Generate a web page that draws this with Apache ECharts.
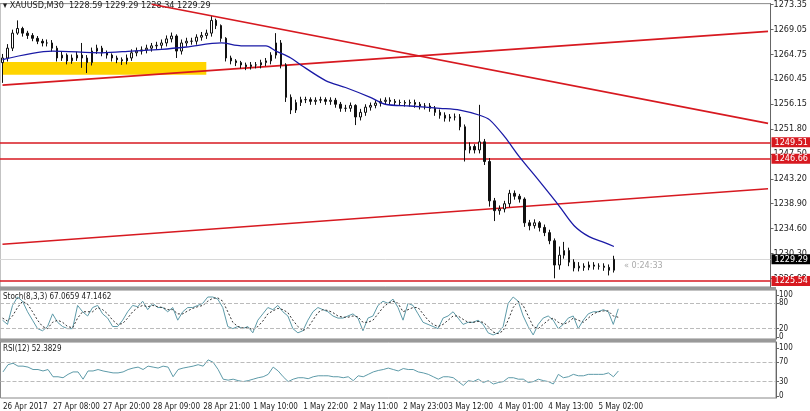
<!DOCTYPE html>
<html>
<head>
<meta charset="utf-8">
<script src="https://cdn.jsdelivr.net/npm/echarts@6/dist/echarts.min.js"></script>
<style>
  html, body { margin: 0; padding: 0; background: #fff; }
  #chart { width: 810px; height: 411px; }
</style>
</head>
<body>
<div id="chart"></div>
<script>
// XAUUSD M30 snapshot — candles, MA, trend lines, Stoch and RSI panes.

const N_CATS = 155; // bars plus empty space to the right edge

const CLOSE = [1264.1,1265.8,1268.4,1269.2,1268.4,1268.0,1267.5,1267.0,1266.7,1266.7,
  1265.8,1264.1,1264.6,1263.6,1264.1,1264.6,1264.1,1263.3,1265.3,1265.8,
  1265.0,1264.6,1264.1,1263.8,1263.6,1264.1,1265.0,1265.3,1265.5,1265.8,
  1266.2,1266.3,1266.7,1267.4,1267.9,1265.3,1266.7,1267.0,1267.0,1267.7,
  1268.0,1268.4,1270.6,1269.7,1267.5,1264.1,1263.6,1263.3,1262.9,1262.6,
  1262.9,1262.9,1263.3,1263.6,1264.6,1266.7,1262.9,1257.3,1255.1,1256.4,
  1256.9,1256.9,1256.6,1256.8,1256.9,1256.6,1256.8,1256.1,1255.4,1255.4,
  1255.9,1253.9,1254.7,1255.6,1255.9,1256.3,1256.6,1256.8,1256.6,1256.4,
  1256.4,1256.3,1256.4,1256.1,1255.8,1255.8,1255.4,1254.7,1254.2,1253.7,
  1253.9,1253.9,1252.2,1248.2,1248.8,1248.2,1249.6,1246.2,1239.4,1237.7,
  1238.0,1238.9,1240.7,1240.2,1239.7,1235.6,1235.1,1235.6,1234.8,1233.9,
  1232.5,1228.3,1230.0,1230.8,1228.8,1227.8,1228.1,1227.9,1228.3,1228.1,
  1228.1,1227.9,1227.4,1229.3];
const FIRST_OPEN = 1263.3;
const HIGH = [1264.8,1266.5,1269.0,1270.6,1269.5,1268.8,1268.4,1267.9,1267.4,1267.3,
  1267.2,1266.2,1265.2,1264.9,1264.7,1265.2,1266.7,1264.6,1265.9,1266.4,
  1266.2,1265.4,1264.9,1264.5,1264.2,1264.7,1265.6,1265.9,1266.1,1266.4,
  1266.7,1266.9,1267.3,1268.0,1268.5,1268.2,1267.3,1267.6,1267.6,1268.2,
  1268.6,1269.0,1271.3,1270.9,1269.9,1267.7,1264.5,1263.9,1263.6,1263.3,
  1263.4,1263.4,1263.8,1264.1,1265.1,1268.4,1267.2,1263.2,1257.8,1256.9,
  1257.4,1257.4,1257.3,1257.3,1257.4,1257.3,1257.3,1257.2,1256.5,1256.0,
  1256.4,1256.1,1255.3,1256.1,1256.4,1256.8,1257.1,1257.3,1257.3,1257.0,
  1256.9,1256.8,1256.9,1256.9,1256.5,1256.3,1256.3,1255.8,1255.2,1254.7,
  1254.4,1254.5,1254.4,1252.6,1249.5,1249.2,1256.0,1250.1,1246.8,1239.9,
  1238.6,1239.4,1241.3,1241.2,1240.6,1240.0,1236.1,1236.2,1235.9,1235.3,
  1234.4,1232.9,1231.5,1232.3,1231.3,1229.3,1228.8,1228.6,1228.9,1228.8,
  1228.6,1228.6,1228.4,1229.9];
const LOW = [1259.8,1263.5,1265.3,1268.1,1267.8,1267.4,1267.0,1266.5,1266.1,1266.1,
  1265.2,1263.5,1263.6,1263.0,1263.1,1263.6,1262.4,1261.5,1262.8,1264.8,
  1264.4,1264.0,1263.5,1263.2,1262.9,1263.0,1263.6,1264.4,1264.7,1264.9,
  1265.2,1265.6,1265.7,1266.1,1266.8,1264.1,1264.7,1266.1,1266.4,1266.4,
  1267.1,1267.4,1267.8,1269.1,1266.9,1263.5,1263.0,1262.7,1262.3,1262.0,
  1262.1,1262.3,1262.3,1262.7,1263.0,1264.0,1262.3,1256.5,1254.4,1254.6,
  1255.8,1256.3,1256.0,1256.0,1256.3,1256.0,1256.0,1255.5,1254.8,1254.8,
  1254.8,1252.5,1253.3,1254.1,1255.0,1255.4,1255.7,1256.1,1256.0,1255.8,
  1255.8,1255.7,1255.7,1255.5,1255.2,1255.2,1254.8,1254.1,1253.6,1253.1,
  1253.1,1253.3,1251.6,1246.2,1247.6,1247.6,1247.6,1245.6,1238.4,1235.9,
  1237.0,1237.4,1238.3,1239.6,1239.1,1234.9,1234.3,1234.6,1234.1,1233.3,
  1231.9,1226.0,1227.5,1229.4,1228.1,1227.2,1227.2,1227.3,1227.4,1227.5,
  1227.5,1227.3,1226.5,1227.0];

// moving average read at key bars: [bar, price]
const MA = [[0,1263.8],[10,1265.3],[20,1265.0],[26,1265.3],[32,1265.6],[37,1266.0],[44,1266.7],
  [48,1266.2],[53,1266.2],[55,1265.3],[58,1264.1],[60,1262.9],[65,1260.2],[69,1259.0],[74,1257.3],
  [77,1256.1],[82,1255.8],[88,1255.4],[92,1255.1],[96,1254.2],[98,1253.4],[101,1250.5],[104,1247.0],
  [108,1242.8],[112,1238.5],[115,1235.1],[118,1233.2],[121,1232.2],[123,1231.5]];

// trend lines: [[bar, price], [bar, price]]
const TREND_UP_HI = [[0,1259.4],[154,1268.7]];
const TREND_DOWN = [[30,1273.4],[154,1252.8]];
const TREND_UP_LO = [[0,1231.9],[154,1241.5]];
const LEVELS = [1249.51, 1246.66, 1225.54];
const LAST_PRICE = 1229.29;
const ZONE = [[0,1263.4],[41,1261.2]];

const PRICE_TICKS = [1226.00,1230.30,1234.60,1238.90,1243.20,1247.50,1251.80,1256.15,1260.45,1264.75,1269.05,1273.35];
const STOCH_TICKS = [0, 20, 80, 100];
const RSI_TICKS = [0, 30, 70, 100];

const STOCH_K = [40,30,75,95,85,60,40,20,15,25, 55,35,25,20,20,75,60,50,70,75,
  55,45,25,25,40,60,75,72,85,65, 80,70,70,60,70,40,60,70,70,75,
  80,95,95,90,70,25,20,25,20,25, 10,40,55,70,65,75,60,50,20,10,
  15,40,60,70,65,60,50,45,45,50, 55,45,15,45,50,75,85,80,90,70,
  40,80,75,55,35,30,25,20,45,50, 60,45,30,35,35,40,30,10,5,10,
  25,80,95,85,50,25,5,30,45,50, 40,20,30,45,50,20,40,55,60,60,
  65,60,30,67];
const STOCH_D = [45,38,50,70,85,78,60,40,25,20, 35,40,35,25,22,45,60,60,60,70,
  65,55,40,30,32,45,60,70,75,72, 75,72,70,65,65,55,55,62,68,72,
  75,85,92,93,85,60,35,25,22,22, 18,25,38,55,62,68,65,58,40,25,
  15,22,40,58,65,63,58,50,47,47, 50,48,35,35,40,55,70,80,85,80,
  60,65,70,70,55,40,30,25,30,40, 50,50,42,35,35,37,35,25,12,8,
  15,40,70,85,75,50,25,20,30,40, 45,35,30,35,45,40,35,45,55,60,
  62,62,50,47];
const RSI = [50,65,68,62,62,60,55,55,52,55, 40,40,38,45,50,50,35,52,52,55,
  52,50,48,48,50,55,58,60,55,62, 60,58,62,60,40,55,58,60,62,65,
  62,75,70,55,35,33,35,32,30,32, 35,38,40,45,60,52,40,30,35,38,
  38,36,40,42,42,42,40,40,38,40, 32,42,40,45,50,53,55,58,55,52,
  57,55,55,50,48,45,40,35,40,40, 38,30,22,32,30,35,28,32,25,28,
  30,38,38,35,35,28,30,35,32,30, 25,45,38,40,45,42,42,45,45,45,
  45,48,40,52];

const X_LABELS = { 0: "26 Apr 2017", 10: "27 Apr 08:00", 20: "27 Apr 20:00", 30: "28 Apr 09:00",
  40: "28 Apr 21:00", 50: "1 May 10:00", 60: "1 May 22:00", 70: "2 May 11:00", 80: "2 May 23:00",
  89: "3 May 12:00", 99: "4 May 01:00", 109: "4 May 13:00", 119: "5 May 02:00" };

const FONT = "DejaVu Sans Condensed, Liberation Sans Narrow, sans-serif";
const RED = "#d71920";

const cats = Array.from({ length: N_CATS }, (_, i) => X_LABELS[i] || "");
const candles = CLOSE.map((c, i) => [i === 0 ? FIRST_OPEN : CLOSE[i - 1], c, LOW[i], HIGH[i]]);

function xAxis(gridIndex, showLabels) {
  return {
    type: "category", gridIndex, data: cats, boundaryGap: true,
    axisLine: { show: false }, axisTick: { show: false }, splitLine: { show: false },
    axisLabel: showLabels ? {
      show: true, interval: (i) => X_LABELS[i] !== undefined, align: "left", hideOverlap: false,
      fontFamily: FONT, fontSize: 8, color: "#222", margin: 5,
    } : { show: false },
  };
}

function yAxis(gridIndex, min, max, ticks, fmt, size) {
  return {
    type: "value", gridIndex, position: "right", min, max, scale: true,
    axisLine: { show: true, lineStyle: { color: "#666" } },
    axisTick: { show: true, customValues: ticks, length: 3, lineStyle: { color: "#666" } },
    axisLabel: { customValues: ticks, formatter: fmt, hideOverlap: false, showMinLabel: true, showMaxLabel: true,
      fontFamily: FONT, fontSize: size, lineHeight: size, color: "#222", margin: 3 },
    splitLine: { show: false },
  };
}

function levelLine(v, bg, color) {
  return {
    yAxis: v,
    lineStyle: { color, width: bg === "#000" ? 1 : 1.5, type: "solid" },
    label: {
      show: true, position: "end", distance: 1, formatter: v.toFixed(2),
      backgroundColor: bg, color: "#fff", fontFamily: FONT, fontSize: 9, padding: [1, 3, 0, 3],
    },
  };
}

function trend(name, pts) {
  return { name, type: "line", xAxisIndex: 0, yAxisIndex: 0, data: pts, symbol: "none",
    lineStyle: { color: RED, width: 1.6 }, silent: true, z: 3 };
}

function dashed(vals) {
  return { symbol: "none", silent: true, label: { show: false },
    lineStyle: { color: "#bbb", type: "dashed", width: 1 },
    data: vals.map((v) => ({ yAxis: v })) };
}

const chart = echarts.init(document.getElementById("chart"));
chart.setOption({
  animation: false,
  grid: [
    { left: 0, right: 34, top: 0, height: 287, show: true, borderColor: "#888", borderWidth: 1 },
    { left: 0, right: 34, top: 290, height: 49, show: true, borderColor: "#888", borderWidth: 1 },
    { left: 0, right: 34, top: 342, height: 56, show: true, borderColor: "#888", borderWidth: 1 },
  ],
  xAxis: [xAxis(0, false), xAxis(1, false), xAxis(2, true)],
  yAxis: [
    yAxis(0, 1224.5, 1273.5, PRICE_TICKS, (v) => v.toFixed(2), 9),
    yAxis(1, -4.6, 111.6, STOCH_TICKS, (v) => String(v), 8),
    yAxis(2, -4, 112, RSI_TICKS, (v) => String(v), 8),
  ],
  graphic: [
    { type: "rect", shape: { x: 0, y: 287, width: 776, height: 3 }, style: { fill: "#999" } },
    { type: "rect", shape: { x: 0, y: 339, width: 776, height: 3 }, style: { fill: "#999" } },
    { type: "text", left: 3, top: 1, style: { text: "▾ XAUUSD,M30  1228.59 1229.29 1228.34 1229.29",
      font: "9px " + FONT, fill: "#222" } },
    { type: "text", left: 624, top: 261, style: { text: "« 0:24:33", font: "9px " + FONT, fill: "#aaa" } },
    { type: "text", left: 3, top: 293, style: { text: "Stoch(8,3,3) 67.0659 47.1462", font: "8px " + FONT, fill: "#222" } },
    { type: "text", left: 3, top: 345, style: { text: "RSI(12) 52.3829", font: "8px " + FONT, fill: "#222" } },
  ],
  series: [
    { name: "XAUUSD", type: "candlestick", xAxisIndex: 0, yAxisIndex: 0, data: candles, barWidth: 2, z: 4,
      itemStyle: { color: "#ffffff", borderColor: "#111", color0: "#111", borderColor0: "#111", borderWidth: 1 },
      markArea: { silent: true, itemStyle: { color: "#ffd400" },
        data: [[{ xAxis: ZONE[0][0], yAxis: ZONE[0][1] }, { xAxis: ZONE[1][0], yAxis: ZONE[1][1] }]] },
      markLine: { symbol: "none", silent: true, z: 2,
        data: [levelLine(LAST_PRICE, "#000", "#d8d8d8"),
               ...LEVELS.map((v) => levelLine(v, RED, RED))] },
    },
    { name: "MA", type: "line", xAxisIndex: 0, yAxisIndex: 0, data: MA, symbol: "none", smooth: 0.3,
      lineStyle: { color: "#1a1aa6", width: 1.3 }, z: 5 },
    trend("upper rising", TREND_UP_HI),
    trend("falling", TREND_DOWN),
    trend("lower rising", TREND_UP_LO),
    { name: "%K", type: "line", xAxisIndex: 1, yAxisIndex: 1, data: STOCH_K, symbol: "none",
      lineStyle: { color: "#5d9aa8", width: 1 }, markLine: dashed([20, 80]) },
    { name: "%D", type: "line", xAxisIndex: 1, yAxisIndex: 1, data: STOCH_D, symbol: "none",
      lineStyle: { color: "#333", width: 1, type: [2, 2] } },
    { name: "RSI", type: "line", xAxisIndex: 2, yAxisIndex: 2, data: RSI, symbol: "none",
      lineStyle: { color: "#5d9aa8", width: 1 }, markLine: dashed([30, 70]) },
  ],
});
</script>
</body>
</html>
